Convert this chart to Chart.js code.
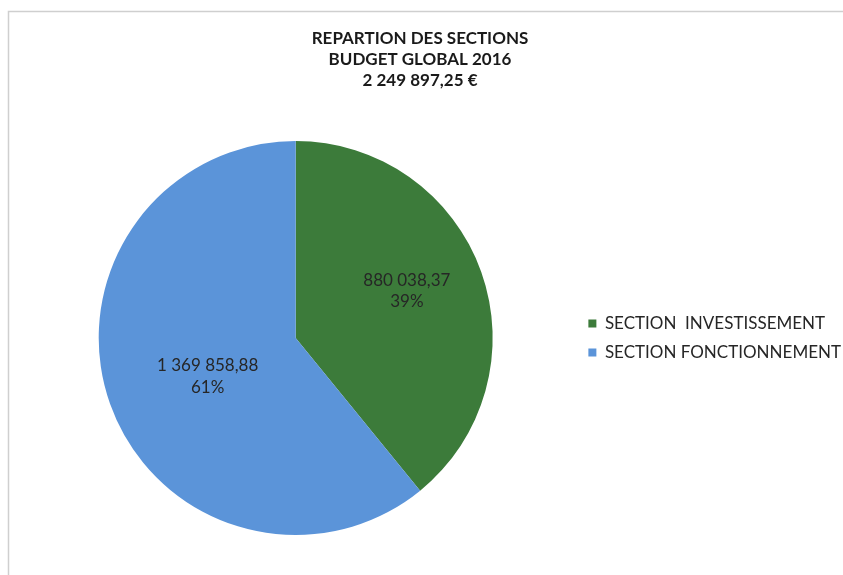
<!DOCTYPE html>
<html>
<head>
<meta charset="utf-8">
<script src="https://cdn.jsdelivr.net/npm/chart.js@4.4.1/dist/chart.umd.min.js"></script>
<style>
  html, body { margin: 0; padding: 0; background: #fff; }
  #wrap { position: relative; width: 843px; height: 575px; }
</style>
</head>
<body>
<div id="wrap"><canvas id="c" width="843" height="575"></canvas></div>
<script>
// ---- data ----
const categories = ['SECTION  INVESTISSEMENT', 'SECTION FONCTIONNEMENT'];
const values = [880038.37, 1369858.88];
const titleLines = ['REPARTION DES SECTIONS', 'BUDGET GLOBAL 2016', '2 249 897,25 €'];
const sliceColors = ['#3c7b3a', '#5b94d9'];

// ---- helpers ----
function frNumber(v) {
  const parts = v.toFixed(2).split('.');
  const intPart = parts[0].replace(/\B(?=(\d{3})+(?!\d))/g, ' ');
  return intPart + ',' + parts[1];
}
const total = values.reduce((a, b) => a + b, 0);
const labelRadius = [0.613, 0.487];
const labelAngleShift = [-3.4, -3.8]; // degrees, label placement tweak
const FONT = 'Lato, "Open Sans", sans-serif';

const framePlugin = {
  id: 'frame',
  afterLayout(chart) {
    if (chart.titleBlock) { chart.titleBlock.left = 0; chart.titleBlock.right = 840; }
  },
  beforeDraw(chart) {
    const ctx = chart.ctx;
    ctx.save();
    ctx.fillStyle = '#fff';
    ctx.fillRect(0, 0, chart.width, chart.height);
    ctx.strokeStyle = '#cfcfcf';
    ctx.lineWidth = 1.5;
    ctx.beginPath();
    ctx.moveTo(8.5, chart.height);
    ctx.lineTo(8.5, 11.5);
    ctx.lineTo(chart.width, 11.5);
    ctx.stroke();
    ctx.restore();
  }
};

const labelPlugin = {
  id: 'sliceLabels',
  afterDatasetsDraw(chart) {
    const ctx = chart.ctx;
    const meta = chart.getDatasetMeta(0);
    ctx.save();
    ctx.font = '17px ' + FONT;
    ctx.fillStyle = '#262626';
    ctx.textAlign = 'center';
    ctx.textBaseline = 'middle';
    meta.data.forEach((arc, i) => {
      const p = arc.getProps(['x', 'y', 'startAngle', 'endAngle', 'outerRadius'], true);
      const mid = (p.startAngle + p.endAngle) / 2 + labelAngleShift[i] * Math.PI / 180;
      const r = p.outerRadius * labelRadius[i];
      const cx = p.x + Math.cos(mid) * r;
      const cy = p.y + Math.sin(mid) * r;
      const v = values[i];
      const pct = Math.round(v / total * 100) + '%';
      ctx.fillText(frNumber(v), cx, cy - 10.5);
      ctx.fillText(pct, cx, cy + 11);
    });
    ctx.restore();
  }
};

new Chart(document.getElementById('c'), {
  type: 'pie',
  data: {
    labels: categories,
    datasets: [{
      data: values,
      backgroundColor: sliceColors,
      borderWidth: 0
    }]
  },
  options: {
    responsive: false,
    animation: false,
    layout: { padding: { left: 15, right: -8, top: 0, bottom: 40 } },
    plugins: {
      tooltip: { enabled: false },
      title: {
        display: true,
        text: titleLines,
        color: '#1a1a1a',
        font: { family: FONT, size: 17, weight: 'bold', lineHeight: 1.24 },
        padding: { top: 27.5, bottom: 50.3 }
      },
      legend: {
        display: true,
        position: 'right',
        fullSize: false,
        labels: {
          boxWidth: 8,
          boxHeight: 8,
          padding: 12,
          color: '#262626',
          font: { family: FONT, size: 17 }
        }
      }
    }
  },
  plugins: [framePlugin, labelPlugin]
});
</script>
</body>
</html>
